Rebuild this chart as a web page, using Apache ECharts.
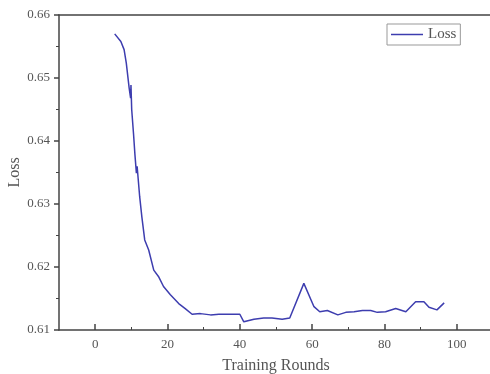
<!DOCTYPE html>
<html>
<head>
<meta charset="utf-8">
<script src="https://cdn.jsdelivr.net/npm/echarts@6/dist/echarts.min.js"></script>
<style>
  html, body { margin: 0; padding: 0; background: #fff; }
  #chart { width: 490px; height: 374px; }
</style>
</head>
<body>
<div id="chart"></div>
<script>
// training rounds and loss
const rounds = [5.4, 7.1, 8.0, 8.6, 9.4, 9.8, 9.9, 10.1, 10.6, 11.0, 11.4, 11.6, 12.3, 12.9, 13.7, 14.8, 16.2, 17.5, 18.9, 20.8, 23.1, 24.9, 26.8, 29.1, 31.9, 34.2, 40.0, 41.1, 43.9, 46.6, 48.9, 51.7, 53.8, 57.7, 60.5, 62.1, 64.2, 67.1, 69.3, 71.6, 73.9, 76.2, 78.0, 80.3, 83.1, 85.9, 88.6, 90.9, 92.3, 94.5, 96.5];
const loss = [0.6570, 0.6558, 0.6545, 0.6524, 0.6484, 0.6468, 0.6489, 0.6450, 0.6412, 0.6378, 0.6349, 0.6360, 0.6312, 0.6280, 0.6243, 0.6227, 0.6195, 0.6185, 0.6169, 0.6156, 0.6142, 0.6134, 0.6125, 0.6126, 0.6124, 0.6125, 0.6125, 0.6113, 0.6117, 0.6119, 0.6119, 0.6117, 0.6119, 0.6174, 0.6137, 0.6129, 0.6131, 0.6124, 0.6128, 0.6129, 0.6131, 0.6131, 0.6128, 0.6129, 0.6134, 0.6129, 0.6145, 0.6145, 0.6136, 0.6132, 0.6143];
const xTicks = [0, 20, 40, 60, 80, 100];
const xMinorTicks = [10, 30, 50, 70, 90];

const serif = '"Liberation Serif", "Times New Roman", serif';
const axisColor = '#444';
const labelColor = '#555';
const lineColor = '#3d3daf';

const chart = echarts.init(document.getElementById('chart'), null, {renderer: 'canvas'});

chart.setOption({
  animation: false,
  grid: {left: 59, right: -3, top: 15, bottom: 44, containLabel: false, outerBoundsMode: 'none'},
  legend: {
    data: [{name: 'Loss', icon: 'rect'}],
    left: 387,
    top: 24,
    padding: [3, 4, 3, 4],
    borderColor: '#999',
    borderWidth: 1,
    itemWidth: 32,
    itemHeight: 1.5,
    itemGap: 6,
    itemStyle: {color: lineColor},
    textStyle: {fontFamily: serif, fontSize: 15, color: labelColor},
  },
  xAxis: [
    {
      type: 'value',
      min: -10,
      max: 110,
      name: 'Training Rounds',
      nameLocation: 'middle',
      nameGap: 28,
      nameTextStyle: {fontFamily: serif, fontSize: 16, color: labelColor},
      axisLine: {show: true, onZero: false, lineStyle: {color: axisColor, width: 1.5}},
      axisTick: {show: true, inside: true, length: 6, customValues: xTicks, lineStyle: {color: axisColor, width: 1.5}},
      axisLabel: {customValues: xTicks, margin: 8, fontFamily: serif, fontSize: 13, color: labelColor},
      splitLine: {show: false},
    },
    {
      type: 'value',
      min: -10,
      max: 110,
      position: 'bottom',
      axisLine: {show: false, onZero: false},
      axisTick: {show: true, inside: true, length: 3, customValues: xMinorTicks, lineStyle: {color: axisColor, width: 1}},
      axisLabel: {show: false},
      splitLine: {show: false},
    },
    {
      type: 'value',
      min: -10,
      max: 110,
      position: 'top',
      axisLine: {show: true, onZero: false, lineStyle: {color: axisColor, width: 1.5}},
      axisTick: {show: false},
      axisLabel: {show: false},
      splitLine: {show: false},
    },
  ],
  yAxis: {
    type: 'value',
    min: 0.61,
    max: 0.66,
    interval: 0.01,
    name: 'Loss',
    nameLocation: 'middle',
    nameGap: 36,
    nameMoveOverlap: false,
    nameTextStyle: {fontFamily: serif, fontSize: 16, color: labelColor},
    axisLine: {show: true, onZero: false, lineStyle: {color: axisColor, width: 1.5}},
    axisTick: {show: true, length: 5, lineStyle: {color: axisColor, width: 1.5}},
    minorTick: {show: true, splitNumber: 2, length: 3, lineStyle: {color: axisColor}},
    axisLabel: {
      margin: 9,
      fontFamily: serif,
      fontSize: 13,
      color: labelColor,
      formatter: v => v.toFixed(2),
    },
    splitLine: {show: false},
  },
  series: [
    {
      name: 'Loss',
      type: 'line',
      xAxisIndex: 0,
      data: rounds.map((r, i) => [r, loss[i]]),
      symbol: 'none',
      lineStyle: {color: lineColor, width: 1.5},
      itemStyle: {color: lineColor},
    },
  ],
});
</script>
</body>
</html>
